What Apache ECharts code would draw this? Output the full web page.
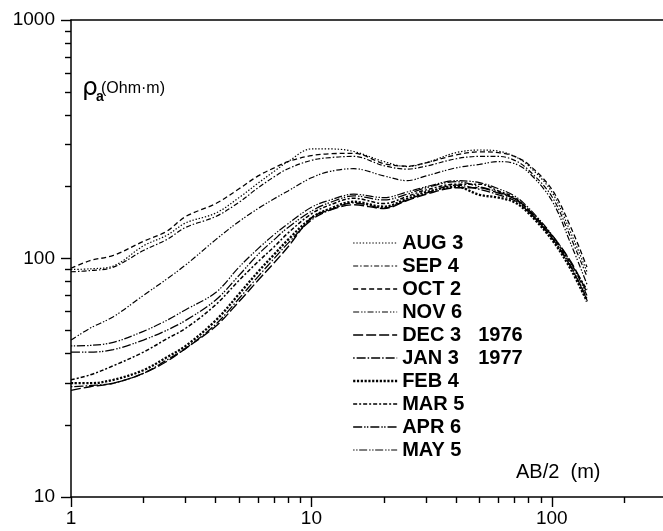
<!DOCTYPE html>
<html lang="en">
<head>
<meta charset="utf-8">
<title>Apparent resistivity soundings</title>
<script src="https://cdn.jsdelivr.net/npm/echarts@6/dist/echarts.min.js"></script>
<style>
    html, body { margin: 0; padding: 0; background: #fff; }
    #main { width: 663px; height: 531px; }
</style>
</head>
<body>
<div id="main"></div>
<script>
// electrode half-spacing AB/2 (m)
var abHalf = [1, 1.2, 1.5, 2, 2.5, 3, 4, 5, 6, 7, 8, 10, 12, 15, 20, 25, 30, 40, 50, 60, 70, 80, 100, 120, 140];

// apparent resistivity (Ohm.m), one list per survey date
var aug3 = [90, 90.5, 93, 113, 125, 141, 155, 180, 207, 232, 255, 288, 288, 281, 255, 243, 252, 278, 285, 282, 268, 245, 190, 128, 88];
var sep4 = [88, 89, 92, 108, 120, 135, 150, 172, 198, 220, 238, 258, 265, 268, 245, 237, 244, 262, 268, 268, 258, 235, 182, 122, 84];
var oct2 = [91, 98, 103, 118, 130, 150, 170, 196, 222, 240, 255, 270, 275, 276, 250, 244, 252, 272, 280, 278, 268, 248, 195, 135, 92];
var nov6 = [45.5, 51, 57, 70, 82, 94, 120, 143, 162, 178, 192, 218, 232, 238, 222, 212, 222, 240, 248, 255, 250, 230, 175, 115, 78];
var dec3 = [28, 29, 30, 33, 37, 42, 52, 66, 81, 96, 112, 148, 160, 168, 162, 175, 186, 198, 198, 188, 178, 160, 125, 97, 72];
var jan3 = [29, 29.3, 30, 33, 37.5, 42, 53, 68, 84, 100, 116, 145, 160, 171, 163, 176, 188, 203, 195, 185, 175, 157, 122, 92, 68];
var feb4 = [30, 30, 31, 34, 38.5, 43, 55, 71, 88, 104, 120, 148, 162, 173, 165, 178, 190, 200, 185, 180, 172, 155, 120, 90, 66];
var mar5 = [31, 32.5, 35.5, 40.5, 46, 51, 64, 81, 97, 112, 128, 154, 168, 179, 170, 182, 194, 205, 205, 192, 180, 160, 124, 95, 74];
var apr6 = [40.5, 40.5, 41.5, 45.5, 50, 55, 67, 85, 104, 120, 135, 158, 172, 183, 176, 186, 198, 210, 200, 190, 178, 158, 122, 93, 67];
var may5 = [43, 43.2, 44.5, 49.5, 55, 61, 72, 92, 110, 126, 140, 164, 176, 186, 180, 190, 200, 212, 208, 196, 183, 163, 126, 96, 70];

var surveyNames = ['AUG 3', 'SEP 4', 'OCT 2', 'NOV 6', 'DEC 3', 'JAN 3', 'FEB 4', 'MAR 5', 'APR 6', 'MAY 5'];
var surveyYears = ['', '', '', '', '1976', '1977', '', '', '', ''];
var surveyValues = [aug3, sep4, oct2, nov6, dec3, jan3, feb4, mar5, apr6, may5];

var xMajorTicks = [1, 10, 100];
var xMinorTicks = [2, 3, 4, 5, 6, 7, 8, 9, 20, 30, 40, 50, 60, 70, 80, 90, 200];
var yMajorTicks = [10, 100, 1000];
var yMinorTicks = [20, 30, 40, 50, 60, 70, 80, 90, 200, 300, 400, 500, 600, 700, 800, 900];

// line patterns, same order as surveyNames
var dashes = [
    [1.4, 1.8],
    [5, 2, 1.5, 2],
    [5, 3],
    [6, 2, 1.4, 1.6, 1.4, 2],
    [10, 3],
    [1.5, 2, 9, 2],
    [2.2, 1.6],
    [4, 2, 2, 2],
    [9, 2, 1.4, 1.4, 1.4, 2],
    [1.4, 1.6, 1.4, 1.6, 8, 2]
];
var widths = [1.2, 1.2, 1.3, 1.2, 1.4, 1.3, 2.3, 1.5, 1.3, 1.2];

var font = 'Liberation Sans, Arial, sans-serif';
var myChart = echarts.init(document.getElementById('main'));

var series = surveyNames.map(function (name, k) {
    return {
        name: name,
        type: 'line',
        xAxisIndex: 0,
        yAxisIndex: 0,
        symbol: 'none',
        smooth: 0.35,
        lineStyle: { color: '#000', width: widths[k], type: dashes[k] },
        data: abHalf.map(function (x, i) { return [x, surveyValues[k][i]]; })
    };
});

function plain(v) { return String(v); }

function logX(pos, ticks, tickLen, showLine, showLabel) {
    return {
        type: 'log', logBase: 10, min: 1, max: 290, position: pos,
        axisLine: { show: showLine, onZero: false, lineStyle: { color: '#000', width: 1.5 } },
        axisTick: { show: !!ticks, customValues: ticks || undefined, length: tickLen, lineStyle: { color: '#000', width: 1.4 } },
        axisLabel: { show: showLabel, customValues: ticks || undefined, formatter: plain, margin: 12, color: '#000', fontSize: 19, fontFamily: font },
        splitLine: { show: false }, minorTick: { show: false }
    };
}

function logY(ticks, tickLen, showLine, showLabel) {
    return {
        type: 'log', logBase: 10, min: 10, max: 1000, position: 'left',
        axisLine: { show: showLine, onZero: false, lineStyle: { color: '#000', width: 1.5 } },
        axisTick: { show: true, customValues: ticks, length: tickLen, lineStyle: { color: '#000', width: 1.4 } },
        axisLabel: { show: showLabel, customValues: ticks, formatter: plain, margin: 16, color: '#000', fontSize: 19, fontFamily: font },
        splitLine: { show: false }, minorTick: { show: false }
    };
}

var option = {
    animation: false,
    backgroundColor: '#fff',
    grid: { left: 71, right: 0, top: 20, bottom: 34, outerBoundsMode: 'none' },
    xAxis: [
        logX('bottom', xMajorTicks, 10, true, true),
        logX('bottom', xMinorTicks, 6, false, false),
        logX('top', null, 0, true, false)
    ],
    yAxis: [
        logY(yMajorTicks, 10, true, true),
        logY(yMinorTicks, 6, false, false)
    ],
    legend: {
        orient: 'vertical',
        left: 347,
        top: 228,
        itemWidth: 44,
        itemHeight: 14,
        itemGap: 3,
        selectedMode: false,
        itemStyle: { opacity: 0, borderWidth: 0 },
        lineStyle: { width: 'inherit' },
        data: surveyNames,
        formatter: function (name) {
            var year = surveyYears[surveyNames.indexOf(name)];
            return year ? '{n|' + name + '}{y|' + year + '}' : '{n|' + name + '}';
        },
        textStyle: {
            color: '#000', fontFamily: font, fontWeight: 'bold', fontSize: 20, lineHeight: 18,
            rich: {
                n: { width: 76, color: '#000', fontFamily: font, fontWeight: 'bold', fontSize: 20, lineHeight: 18 },
                y: { color: '#000', fontFamily: font, fontWeight: 'bold', fontSize: 20, lineHeight: 18 }
            }
        }
    },
    graphic: [
        {
            type: 'text', x: 82, y: 88,
            style: { text: 'ρ', fontSize: 25, fontFamily: 'DejaVu Sans', fill: '#000', verticalAlign: 'middle' }
        },
        {
            type: 'text', x: 96, y: 97,
            style: { text: 'a', fontSize: 14, fontWeight: 'bold', fontFamily: font, fill: '#000', verticalAlign: 'middle' }
        },
        {
            type: 'text', x: 101, y: 89,
            style: { text: '(Ohm·m)', fontSize: 16, fontFamily: font, fill: '#000', verticalAlign: 'middle' }
        },
        {
            type: 'text', left: 516, top: 462,
            style: { text: 'AB/2  (m)', fontSize: 20, fontFamily: font, fill: '#000' }
        }
    ],
    series: series
};

myChart.setOption(option);
</script>
</body>
</html>
